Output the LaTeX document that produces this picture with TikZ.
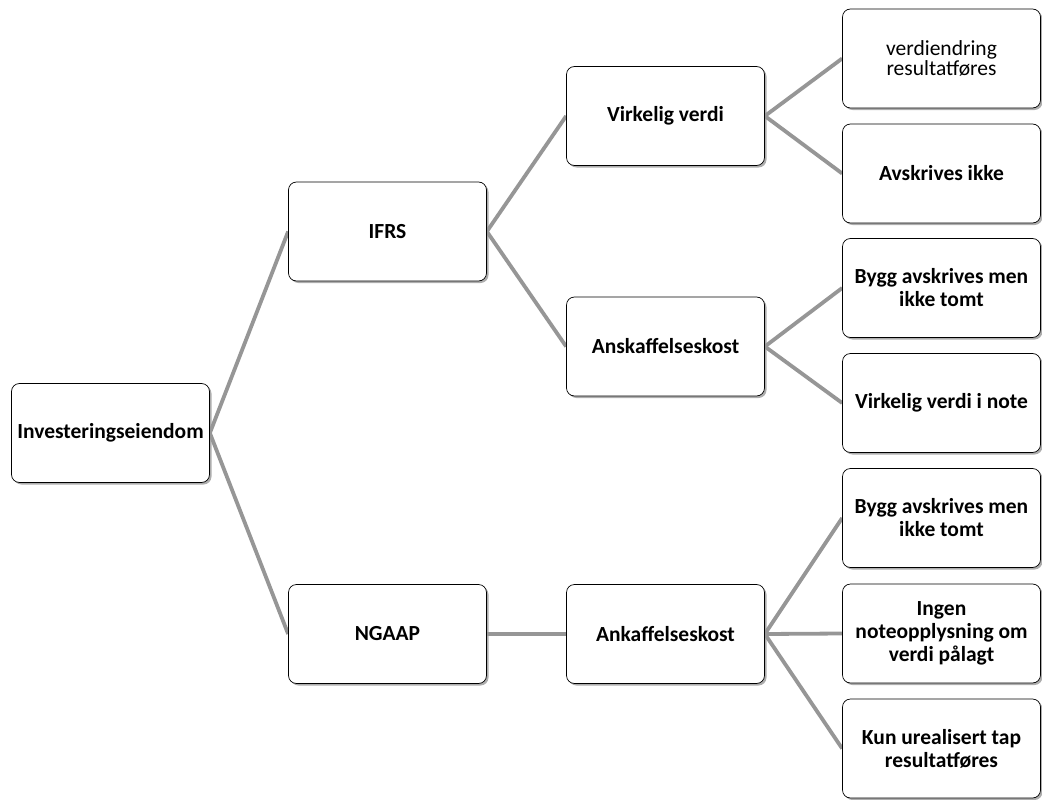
\documentclass[tikz,border=0pt]{standalone}
\usepackage{fontspec}
\setmainfont{Carlito}
\usetikzlibrary{shadows,backgrounds}
\begin{document}
\begin{tikzpicture}[x=1pt,y=-1pt,
  box/.style={draw=black, line width=0.7pt, rounded corners=8pt, fill=white,
    minimum width=198pt, minimum height=99pt, inner sep=3pt, align=center,
    font=\fontsize{21.5}{23}\selectfont\bfseries,
    drop shadow={shadow xshift=2pt, shadow yshift=-2pt, fill=black!40, opacity=0.8}},
  thinbox/.style={box, font=\fontsize{21.5}{20.5}\selectfont},
  link/.style={draw={rgb,255:red,150;green,150;blue,150}, line width=3.8pt}]
\useasboundingbox (0,0) rectangle (1042,800);
\node[box] (inv) at (110.5,433) {Investeringseiendom};
\node[box] (ifrs) at (387.5,231.5) {IFRS};
\node[box] (ngaap) at (387.5,634) {NGAAP};
\node[box] (vv) at (665.5,116) {Virkelig verdi};
\node[box] (ansk) at (665.5,346.5) {Anskaffelseskost};
\node[box] (ankaf) at (665.5,634) {Ankaffelseskost};
\node[thinbox] (r1) at (941.5,58.5) {verdiendring\\resultatføres};
\node[box] (r2) at (941.5,173.5) {Avskrives ikke};
\node[box] (r3) at (941.5,288) {Bygg avskrives men\\ikke tomt};
\node[box] (r4) at (941.5,403) {Virkelig verdi i note};
\node[box] (r5) at (941.5,518) {Bygg avskrives men\\ikke tomt};
\node[box] (r6) at (941.5,633.5) {Ingen\\noteopplysning om\\verdi pålagt};
\node[box] (r7) at (941.5,748.5) {Kun urealisert tap\\resultatføres};
\begin{scope}[on background layer]
\draw[link] (inv.east) -- (ifrs.west);
\draw[link] (inv.east) -- (ngaap.west);
\draw[link] (ifrs.east) -- (vv.west);
\draw[link] (ifrs.east) -- (ansk.west);
\draw[link] (ngaap.east) -- (ankaf.west);
\draw[link] (vv.east) -- (r1.west);
\draw[link] (vv.east) -- (r2.west);
\draw[link] (ansk.east) -- (r3.west);
\draw[link] (ansk.east) -- (r4.west);
\draw[link] (ankaf.east) -- (r5.west);
\draw[link] (ankaf.east) -- (r6.west);
\draw[link] (ankaf.east) -- (r7.west);
\end{scope}
\end{tikzpicture}
\end{document}
